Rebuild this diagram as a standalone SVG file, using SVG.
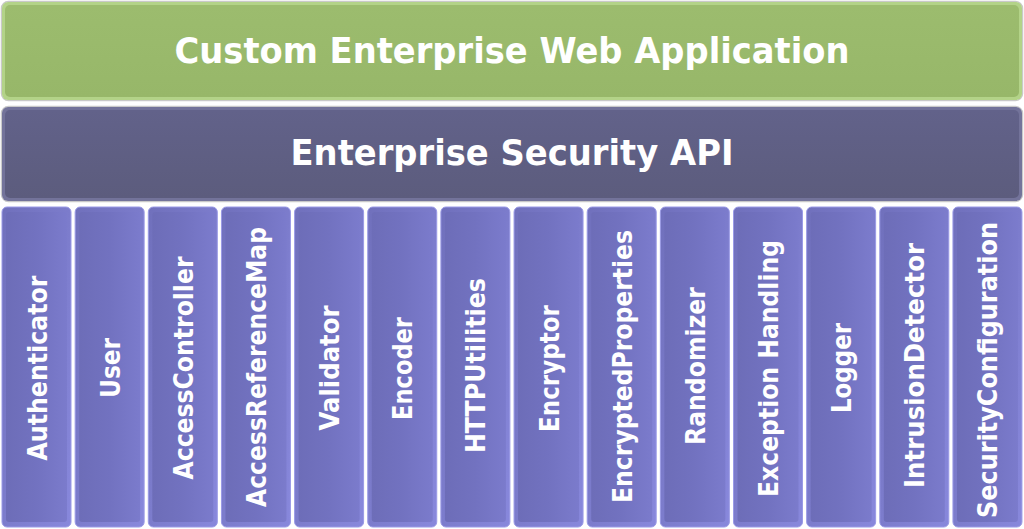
<svg xmlns="http://www.w3.org/2000/svg" width="1024" height="529" viewBox="0 0 1024 529">
<defs>
<linearGradient id="gCol" x1="0" y1="0" x2="1" y2="0">
<stop offset="0" stop-color="#6d6db8"/>
<stop offset="0.5" stop-color="#7272c0"/>
<stop offset="1" stop-color="#7b7bcc"/>
</linearGradient>
<linearGradient id="gColEdge" x1="0" y1="0" x2="1" y2="1">
<stop offset="0" stop-color="#7070bc"/>
<stop offset="1" stop-color="#8888dc"/>
</linearGradient>
<linearGradient id="gGreen" x1="0" y1="0" x2="0" y2="1">
<stop offset="0" stop-color="#9cbc6e"/>
<stop offset="1" stop-color="#97b769"/>
</linearGradient>
<linearGradient id="gPurple" x1="0" y1="0" x2="0" y2="1">
<stop offset="0" stop-color="#62628a"/>
<stop offset="1" stop-color="#5c5c7d"/>
</linearGradient>
</defs>
<style>
.t{font-family:"DejaVu Sans",Verdana,sans-serif;font-weight:bold;fill:#ffffff;}
.big{font-size:35px;}
.col{font-size:26px;}
.shadow{fill:none;stroke:#c9c9c9;stroke-width:1.5;}
.colOuter{fill:url(#gColEdge);stroke:#9a9ae6;stroke-width:1;}
.colInner{fill:url(#gCol);}
</style>
<rect width="1024" height="529" fill="#ffffff"/>
<g id="webapp">
<rect class="shadow" x="1.5" y="1.5" width="1021" height="99" rx="7"/>
<rect x="2" y="2" width="1020" height="98" rx="6" fill="#b3d388"/>
<rect x="5" y="5" width="1014" height="92" rx="5" fill="url(#gGreen)"/>
<text class="t big" x="512" y="63" text-anchor="middle" textLength="675" lengthAdjust="spacingAndGlyphs">Custom Enterprise Web Application</text>
</g>
<g id="esapi">
<rect class="shadow" x="1.5" y="106.5" width="1021" height="95" rx="7"/>
<rect x="2" y="107" width="1020" height="94" rx="6" fill="#73739a"/>
<rect x="5" y="110" width="1014" height="88" rx="5" fill="url(#gPurple)"/>
<text class="t big" x="512" y="165" text-anchor="middle" textLength="443" lengthAdjust="spacingAndGlyphs">Enterprise Security API</text>
</g>
<g id="c1"><rect class="colOuter" x="2" y="207" width="69" height="320" rx="5"/><rect class="colInner" x="6" y="212" width="61" height="310" rx="3"/><text class="t col" transform="translate(46.5,368) rotate(-90)" text-anchor="middle" textLength="185" lengthAdjust="spacingAndGlyphs">Authenticator</text></g>
<g id="c2"><rect class="colOuter" x="75.15" y="207" width="69" height="320" rx="5"/><rect class="colInner" x="79.15" y="212" width="61" height="310" rx="3"/><text class="t col" transform="translate(119.65,368) rotate(-90)" text-anchor="middle" textLength="60" lengthAdjust="spacingAndGlyphs">User</text></g>
<g id="c3"><rect class="colOuter" x="148.3" y="207" width="69" height="320" rx="5"/><rect class="colInner" x="152.3" y="212" width="61" height="310" rx="3"/><text class="t col" transform="translate(192.8,368) rotate(-90)" text-anchor="middle" textLength="223" lengthAdjust="spacingAndGlyphs">AccessController</text></g>
<g id="c4"><rect class="colOuter" x="221.45" y="207" width="69" height="320" rx="5"/><rect class="colInner" x="225.45" y="212" width="61" height="310" rx="3"/><text class="t col" transform="translate(265.95,367) rotate(-90)" text-anchor="middle" textLength="280" lengthAdjust="spacingAndGlyphs">AccessReferenceMap</text></g>
<g id="c5"><rect class="colOuter" x="294.6" y="207" width="69" height="320" rx="5"/><rect class="colInner" x="298.6" y="212" width="61" height="310" rx="3"/><text class="t col" transform="translate(339.1,368) rotate(-90)" text-anchor="middle" textLength="125" lengthAdjust="spacingAndGlyphs">Validator</text></g>
<g id="c6"><rect class="colOuter" x="367.75" y="207" width="69" height="320" rx="5"/><rect class="colInner" x="371.75" y="212" width="61" height="310" rx="3"/><text class="t col" transform="translate(412.25,368.5) rotate(-90)" text-anchor="middle" textLength="103" lengthAdjust="spacingAndGlyphs">Encoder</text></g>
<g id="c7"><rect class="colOuter" x="440.9" y="207" width="69" height="320" rx="5"/><rect class="colInner" x="444.9" y="212" width="61" height="310" rx="3"/><text class="t col" transform="translate(485.4,365.5) rotate(-90)" text-anchor="middle" textLength="175" lengthAdjust="spacingAndGlyphs">HTTPUtilities</text></g>
<g id="c8"><rect class="colOuter" x="514.05" y="207" width="69" height="320" rx="5"/><rect class="colInner" x="518.05" y="212" width="61" height="310" rx="3"/><text class="t col" transform="translate(558.55,368.5) rotate(-90)" text-anchor="middle" textLength="127" lengthAdjust="spacingAndGlyphs">Encryptor</text></g>
<g id="c9"><rect class="colOuter" x="587.2" y="207" width="69" height="320" rx="5"/><rect class="colInner" x="591.2" y="212" width="61" height="310" rx="3"/><text class="t col" transform="translate(631.7,366.5) rotate(-90)" text-anchor="middle" textLength="273" lengthAdjust="spacingAndGlyphs">EncryptedProperties</text></g>
<g id="c10"><rect class="colOuter" x="660.35" y="207" width="69" height="320" rx="5"/><rect class="colInner" x="664.35" y="212" width="61" height="310" rx="3"/><text class="t col" transform="translate(704.85,366) rotate(-90)" text-anchor="middle" textLength="158" lengthAdjust="spacingAndGlyphs">Randomizer</text></g>
<g id="c11"><rect class="colOuter" x="733.5" y="207" width="69" height="320" rx="5"/><rect class="colInner" x="737.5" y="212" width="61" height="310" rx="3"/><text class="t col" transform="translate(778,368.5) rotate(-90)" text-anchor="middle" textLength="257" lengthAdjust="spacingAndGlyphs">Exception Handling</text></g>
<g id="c12"><rect class="colOuter" x="806.65" y="207" width="69" height="320" rx="5"/><rect class="colInner" x="810.65" y="212" width="61" height="310" rx="3"/><text class="t col" transform="translate(851.15,368) rotate(-90)" text-anchor="middle" textLength="90" lengthAdjust="spacingAndGlyphs">Logger</text></g>
<g id="c13"><rect class="colOuter" x="879.8" y="207" width="69" height="320" rx="5"/><rect class="colInner" x="883.8" y="212" width="61" height="310" rx="3"/><text class="t col" transform="translate(924.3,365.5) rotate(-90)" text-anchor="middle" textLength="245" lengthAdjust="spacingAndGlyphs">IntrusionDetector</text></g>
<g id="c14"><rect class="colOuter" x="952.95" y="207" width="69" height="320" rx="5"/><rect class="colInner" x="956.95" y="212" width="61" height="310" rx="3"/><text class="t col" transform="translate(997.45,370) rotate(-90)" text-anchor="middle" textLength="296" lengthAdjust="spacingAndGlyphs">SecurityConfiguration</text></g>
</svg>
